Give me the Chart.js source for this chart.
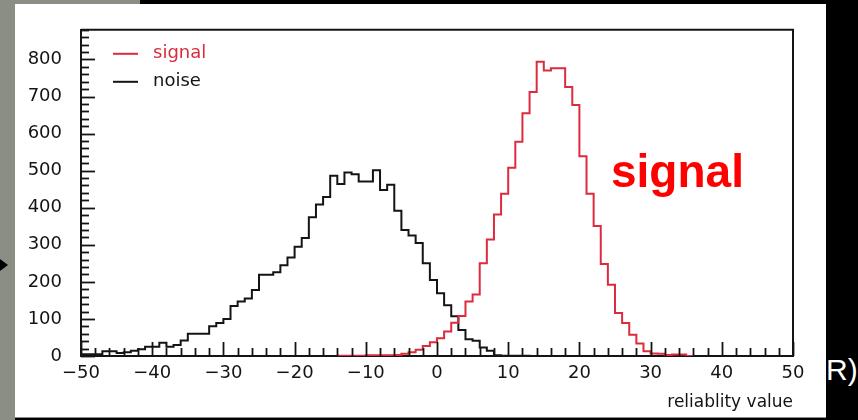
<!DOCTYPE html>
<html><head><meta charset="utf-8">
<script src="https://cdn.jsdelivr.net/npm/chart.js@4.4.1/dist/chart.umd.min.js"></script>
<style>
html,body{margin:0;padding:0;width:858px;height:420px;overflow:hidden;background:#000;}
.grey-left{position:absolute;left:0;top:0;width:15px;height:420px;background:#8b8e82;}
.grey-top{position:absolute;left:0;top:0;width:140px;height:4px;background:#8b8e82;}
#rtext{position:absolute;left:826px;top:355px;font:30px "Liberation Sans",Arial,sans-serif;line-height:30px;color:#fff;white-space:nowrap;}
#panel{position:absolute;left:15px;top:4px;width:811px;height:413px;background:#fff;}
.bottomline{position:absolute;left:15px;top:417px;width:811px;height:1px;background:#8b8e82;}
#arrow{position:absolute;left:0;top:259px;width:0;height:0;border-top:6px solid transparent;border-bottom:6px solid transparent;border-left:8px solid #000;}
#chart{position:absolute;left:0;top:0;}
#big{position:absolute;left:611px;top:148px;font:bold 46px "Liberation Sans",Arial,sans-serif;line-height:46px;color:#ff0000;white-space:nowrap;}
</style>
</head>
<body>
<div class="grey-left"></div>
<div class="grey-top"></div>
<div id="rtext">R)</div>
<div id="panel"></div>
<div class="bottomline"></div>
<div id="arrow"></div>
<canvas id="chart" width="858" height="420"></canvas>
<div id="big">signal</div>
<script>
// ---- data (bins of width 1 from -50 to 50) ----
const binStart = -50;
const binWidth = 1;
const seriesNames = ['signal', 'noise'];
// counts per bin, bin -50 ... bin 49 (null = empty, not drawn)
const signalCounts = [
  null,null,null,null,null,null,null,null,null,null,
  null,null,null,null,null,null,null,null,null,null,
  null,null,null,null,null,null,null,null,null,null,
  null,null,null,null,null,null,
  1,1,1,1,1,
  2,2,2,2,3,
  6,10,17,27,
  37,48,66,90,108,147,166,250,314,382,
  438,508,578,655,712,794,770,776,776,726,
  677,539,438,351,248,192,116,89,57,34,
  13,7,6,3,4,4,
  0,
  null,null,null,null,null,null,null,null,null,null,null,null,null
];
const noiseCounts = [
  0,5,5,5,13,13,8,10,14,18,
  25,25,36,25,30,42,60,60,60,80,
  89,100,135,147,155,178,219,219,226,245,
  266,295,318,374,409,429,486,464,495,490,
  471,471,501,448,462,392,340,325,305,250,
  205,169,137,107,70,45,41,23,14,2,
  1,1,1,1,
  0,
  null,null,null,null,null,null,null,null,null,null,
  null,null,null,null,null,null,null,null,null,null,
  null,null,null,null,null,null,null,null,null,null,
  null,null,null,null,null
];
const xTickValues = [-50,-40,-30,-20,-10,0,10,20,30,40,50];
const yTickValues = [0,100,200,300,400,500,600,700,800];
const xTitle = 'reliablity value';

// ---- build step points (left bin edges + closing right edge) ----
function toSteps(counts){
  const pts = counts.map((c,i)=>({x: binStart + i*binWidth, y: c}));
  pts.push({x: binStart + counts.length*binWidth, y: counts[counts.length-1]});
  return pts;
}

const SIGNAL_RED = '#dc2b3d';
const INK = '#141414';

const frameAndTicks = {
  id: 'frameAndTicks',
  afterDraw(chart){
    const {ctx, chartArea:a, scales:{x, y}} = chart;
    ctx.save();
    ctx.strokeStyle = INK;
    ctx.lineWidth = 2;
    ctx.beginPath();
    ctx.moveTo(a.left, a.top); ctx.lineTo(a.right, a.top); ctx.lineTo(a.right, a.bottom);
    ctx.stroke();
    ctx.lineWidth = 1.8;
    for (let v = x.min; v <= x.max + 1e-9; v += 2){
      const px = Math.round(x.getPixelForValue(v)) + 0.5;
      const major = Math.abs(v % 10) < 1e-9;
      ctx.beginPath(); ctx.moveTo(px, a.bottom); ctx.lineTo(px, a.bottom - (major ? 14 : 8)); ctx.stroke();
    }
    for (let v = y.min; v <= y.max + 1e-9; v += 20){
      const py = Math.round(y.getPixelForValue(v)) + 0.5;
      const major = Math.abs(v % 100) < 1e-9;
      ctx.beginPath(); ctx.moveTo(a.left, py); ctx.lineTo(a.left + (major ? 14 : 8), py); ctx.stroke();
    }
    // legend (from dataset labels / colours)
    ctx.font = '18px "DejaVu Sans"';
    ctx.textBaseline = 'middle';
    chart.data.datasets.forEach((ds, i) => {
      const yy = a.top + 24 + i*28;
      ctx.strokeStyle = ds.borderColor; ctx.lineWidth = 2;
      ctx.beginPath(); ctx.moveTo(a.left + 32, yy); ctx.lineTo(a.left + 57, yy); ctx.stroke();
      ctx.fillStyle = ds.borderColor;
      ctx.fillText(ds.label, a.left + 72, yy);
    });
    ctx.restore();
  }
};

Chart.defaults.font.family = '"DejaVu Sans", sans-serif';
new Chart(document.getElementById('chart'), {
  type: 'line',
  data: {
    datasets: [
      { label: seriesNames[0], data: toSteps(signalCounts), borderColor: SIGNAL_RED, borderWidth: 2, stepped: 'after', pointRadius: 0, fill: false },
      { label: seriesNames[1], data: toSteps(noiseCounts), borderColor: INK, borderWidth: 2, stepped: 'after', pointRadius: 0, fill: false }
    ]
  },
  options: {
    responsive: false,
    animation: false,
    devicePixelRatio: 1,
    layout: { padding: { top: 23, left: 0, right: 65, bottom: 0 } },
    plugins: { legend: { display: false }, tooltip: { enabled: false } },
    scales: {
      x: {
        type: 'linear', min: -50, max: 50,
        afterBuildTicks: s => { s.ticks = xTickValues.map(v => ({value: v})); },
        afterFit: s => { s.height = 64; },
        ticks: { font: { size: 18 }, color: INK, padding: 7, maxRotation: 0, autoSkip: false,
          callback: v => (v < 0 ? '\u2212' + Math.abs(v) : String(v)) },
        grid: { display: false, drawTicks: false },
        border: { display: true, color: INK, width: 2 },
        title: { display: true, text: xTitle, align: 'end', color: INK, font: { size: 17 }, padding: { top: 0, bottom: 7 } }
      },
      y: {
        type: 'linear', min: 0, max: 880,
        afterBuildTicks: s => { s.ticks = yTickValues.map(v => ({value: v})); },
        afterFit: s => { s.width = 81; },
        ticks: { font: { size: 18 }, color: INK, padding: 19 },
        grid: { display: false, drawTicks: false },
        border: { display: true, color: INK, width: 2 }
      }
    }
  },
  plugins: [frameAndTicks]
});
</script>
</body></html>
